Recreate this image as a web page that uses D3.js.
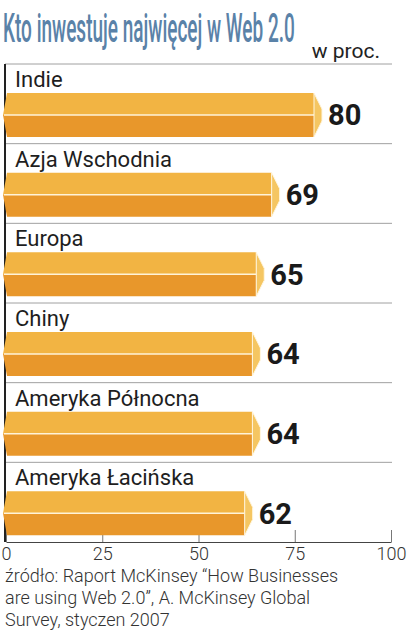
<!DOCTYPE html>
<html>
<head>
<meta charset="utf-8">
<script src="https://cdn.jsdelivr.net/npm/d3@7"></script>
<style>
  body { margin: 0; background: #fff; }
  svg { display: block; }
</style>
</head>
<body>
<div id="chart"></div>
<script>
// data
var regions = ["Indie", "Azja Wschodnia", "Europa", "Chiny", "Ameryka Północna", "Ameryka Łacińska"];
var shares = [80, 69, 65, 64, 64, 62];
var ticks = [0, 25, 50, 75, 100];
var sourceLines = [
  "źródło: Raport McKinsey “How Businesses",
  "are using Web 2.0”, A. McKinsey Global",
  "Survey, styczen 2007"
];

var width = 408, height = 640;

var svg = d3.select("#chart")
  .append("svg")
  .attr("width", width)
  .attr("height", height);

var x = d3.scaleLinear()
  .domain([0, 100])
  .range([6, 391]);

var y = d3.scaleBand()
  .domain(regions)
  .range([64, 542]);

var rows = regions.map(function(r, i) { return {name: r, value: shares[i]}; });

// title - condensed by horizontal scaling
var titleG = svg.append("g");
var title = titleG.append("text")
  .attr("font-family", "Roboto, sans-serif")
  .attr("font-size", 40)
  .attr("font-weight", 500)
  .attr("fill", "#5a82a8")
  .text("Kto inwestuje najwięcej w Web 2.0");
var tw = title.node().getComputedTextLength();
titleG.attr("transform", "translate(3,42) scale(" + (292 / tw) + ",1)");

svg.append("text")
  .attr("x", 380).attr("y", 58)
  .attr("text-anchor", "end")
  .attr("font-family", "Roboto, sans-serif")
  .attr("font-size", 21)
  .attr("fill", "#222")
  .text("w proc.");

// row separators
svg.selectAll(".sep")
  .data(regions)
  .enter()
  .append("line")
  .attr("x1", 5).attr("x2", 392)
  .attr("y1", function(d) { return y(d); })
  .attr("y2", function(d) { return y(d); })
  .attr("stroke", "#a0a0a0")
  .attr("stroke-width", 1);

// left axis line
svg.append("line")
  .attr("x1", 5).attr("x2", 5)
  .attr("y1", y.range()[0]).attr("y2", y.range()[1])
  .attr("stroke", "#222")
  .attr("stroke-width", 2);

// bottom axis
var axis = svg.append("g")
  .attr("transform", "translate(0," + y.range()[1] + ")")
  .call(d3.axisBottom(x).tickValues(ticks).tickSize(-12).tickSizeOuter(0).tickPadding(5));
axis.select(".domain").attr("stroke", "#444").attr("stroke-width", 1.2);
axis.selectAll(".tick line").attr("stroke", "#777");
axis.selectAll(".tick text")
  .attr("font-family", "Roboto, sans-serif")
  .attr("font-weight", 300)
  .attr("font-size", 18)
  .attr("fill", "#333");

var barTop = 29, barH = 44;

var row = svg.selectAll(".row")
  .data(rows)
  .enter()
  .append("g")
  .attr("class", "row")
  .attr("transform", function(d) { return "translate(0," + y(d.name) + ")"; });

// category labels
row.append("text")
  .attr("x", 15)
  .attr("y", barTop - 6)
  .attr("font-family", "Roboto, sans-serif")
  .attr("font-size", 22)
  .attr("fill", "#1e1e1e")
  .text(function(d) { return d.name; });

// upper light face
row.append("polygon")
  .attr("points", function(d) {
    var x0 = x(0) - 3, x1 = x(d.value);
    return [[x0 + 4, barTop], [x1, barTop], [x1, barTop + barH / 2], [x0, barTop + barH / 2]].join(" ");
  })
  .attr("fill", "#f2b443");

// lower dark face
row.append("polygon")
  .attr("points", function(d) {
    var x0 = x(0) - 3, x1 = x(d.value);
    return [[x0, barTop + barH / 2], [x1, barTop + barH / 2], [x1, barTop + barH], [x0 + 4, barTop + barH]].join(" ");
  })
  .attr("fill", "#e8972b");

// divider
row.append("line")
  .attr("x1", x(0) - 2)
  .attr("x2", function(d) { return x(d.value); })
  .attr("y1", barTop + barH / 2).attr("y2", barTop + barH / 2)
  .attr("stroke", "#fff3d8")
  .attr("stroke-width", 1.5);

// end cap
row.append("polygon")
  .attr("points", function(d) {
    var x1 = x(d.value);
    return [[x1, barTop], [x1 + 8, barTop + barH / 2 - 6], [x1 + 8, barTop + barH / 2 + 6], [x1, barTop + barH]].join(" ");
  })
  .attr("fill", "#f5c662")
  .attr("stroke", "#fff6e0")
  .attr("stroke-width", 1);

// values
row.append("text")
  .attr("x", function(d) { return x(d.value) + 14; })
  .attr("y", barTop + barH / 2)
  .attr("dy", "0.36em")
  .attr("font-family", "Roboto, sans-serif")
  .attr("font-weight", "bold")
  .attr("font-size", 29)
  .attr("fill", "#1a1a1a")
  .text(function(d) { return d.value; });

// source
svg.selectAll(".src")
  .data(sourceLines)
  .enter()
  .append("text")
  .attr("x", 5)
  .attr("y", function(d, i) { return 582 + i * 22; })
  .attr("font-family", "Roboto, sans-serif")
  .attr("font-weight", 300)
  .attr("font-size", 18)
  .attr("fill", "#333")
  .text(function(d) { return d; });
</script>
</body>
</html>
